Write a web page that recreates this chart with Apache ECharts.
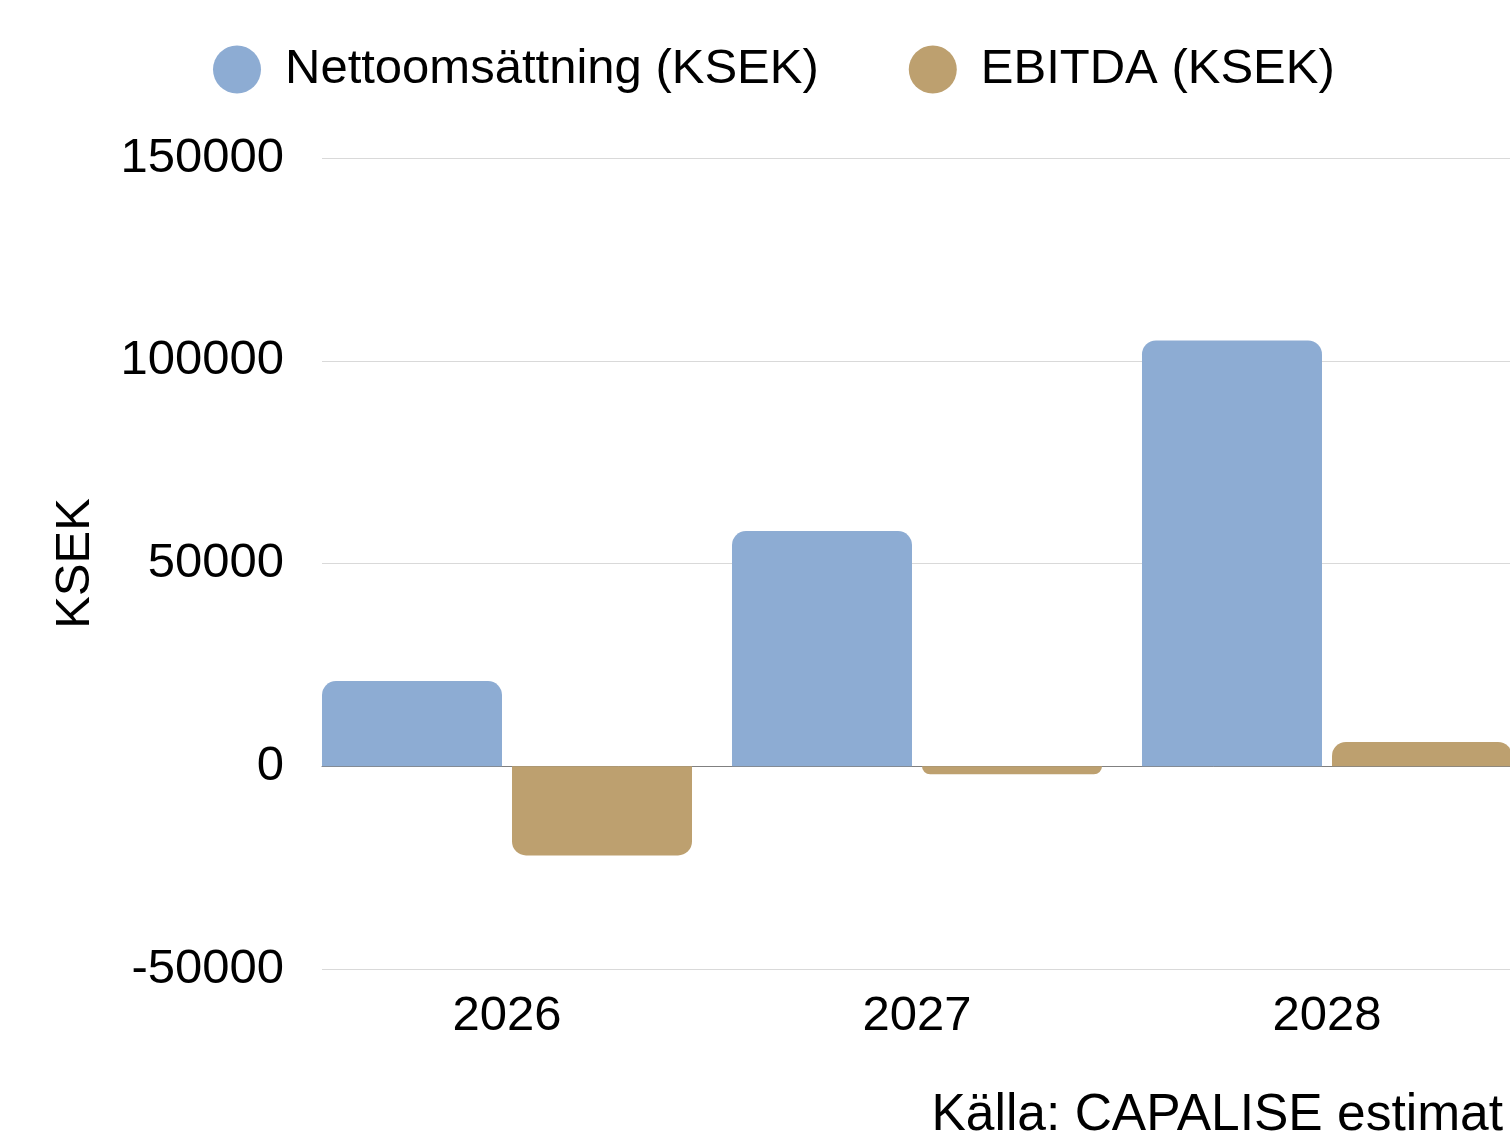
<!DOCTYPE html>
<html>
<head>
<meta charset="utf-8">
<title>Nettoomsättning och EBITDA</title>
<script src="https://cdn.jsdelivr.net/npm/echarts@6/dist/echarts.min.js"></script>
<style>
    html, body { margin: 0; padding: 0; background: #fff; }
    #main { width: 1510px; height: 1135px; }
</style>
</head>
<body>
<div id="main"></div>
<script>
    // data
    var years = ['2026', '2027', '2028'];
    var netto = [21000, 58000, 105000];
    var ebitda = [-22000, -2000, 6000];
    var yTicks = { min: -50000, max: 150000, step: 50000 };

    var font = 'Liberation Sans, Arial, Helvetica, sans-serif';
    var blue = '#8dacd3';
    var gold = '#bda06f';

    var myChart = echarts.init(document.getElementById('main'));
    var option = {
        backgroundColor: '#fff',
        animation: false,
        textStyle: { fontFamily: font },
        legend: {
            left: 208,
            top: 40,
            icon: 'circle',
            itemWidth: 48,
            itemHeight: 48,
            itemGap: 90,
            textStyle: { fontSize: 49, color: '#000', fontFamily: font, padding: [0, 0, 0, 19] },
            data: ['Nettoomsättning (KSEK)', 'EBITDA (KSEK)']
        },
        grid: [
            // bars, categories are 410px wide and run past the right edge
            { left: 302, width: 1230, top: 158, bottom: 166, outerBoundsMode: 'none', containLabel: false },
            // gridlines, y labels and zero line
            { left: 322, right: 0, top: 158, bottom: 166, outerBoundsMode: 'none', containLabel: false }
        ],
        xAxis: [{
            type: 'category',
            gridIndex: 0,
            data: years,
            axisLine: { show: false },
            axisTick: { show: false },
            axisLabel: { fontSize: 49, color: '#000', margin: 23, fontFamily: font }
        }, {
            type: 'category',
            gridIndex: 1,
            data: years,
            axisLine: { show: true, onZero: true, lineStyle: { color: '#808080', width: 1 } },
            axisTick: { show: false },
            axisLabel: { show: false }
        }],
        yAxis: [{
            type: 'value',
            gridIndex: 0,
            min: yTicks.min,
            max: yTicks.max,
            interval: yTicks.step,
            show: false,
            splitLine: { show: false }
        }, {
            type: 'value',
            gridIndex: 1,
            min: yTicks.min,
            max: yTicks.max,
            interval: yTicks.step,
            name: 'KSEK',
            nameLocation: 'middle',
            nameRotate: 90,
            nameGap: 222,
            nameTextStyle: { fontSize: 49, color: '#000', fontFamily: font },
            axisLine: { show: false },
            axisTick: { show: false },
            axisLabel: {
                fontSize: 49, color: '#000', margin: 38, fontFamily: font,
                formatter: function(v){ return String(v); }
            },
            splitLine: { lineStyle: { color: '#d9d9d9', width: 1 } }
        }],
        series: [{
            name: 'Nettoomsättning (KSEK)',
            type: 'bar',
            xAxisIndex: 0,
            yAxisIndex: 0,
            barWidth: 180,
            barGap: '5.56%',
            itemStyle: { color: blue, borderRadius: [14, 14, 0, 0] },
            data: netto
        }, {
            name: 'EBITDA (KSEK)',
            type: 'bar',
            xAxisIndex: 0,
            yAxisIndex: 0,
            barWidth: 180,
            itemStyle: { color: gold, borderRadius: [14, 14, 0, 0] },
            data: ebitda.map(function(v){
                // negative bars get their rounded corners at the bottom
                return v < 0 ? { value: v, itemStyle: { borderRadius: [0, 0, 14, 14] } } : v;
            })
        }],
        graphic: [{
            type: 'text',
            right: 7,
            top: 1090,
            style: { text: 'Källa: CAPALISE estimat', font: '51.5px ' + font, fill: '#000' }
        }]
    };
    myChart.setOption(option);
</script>
</body>
</html>
